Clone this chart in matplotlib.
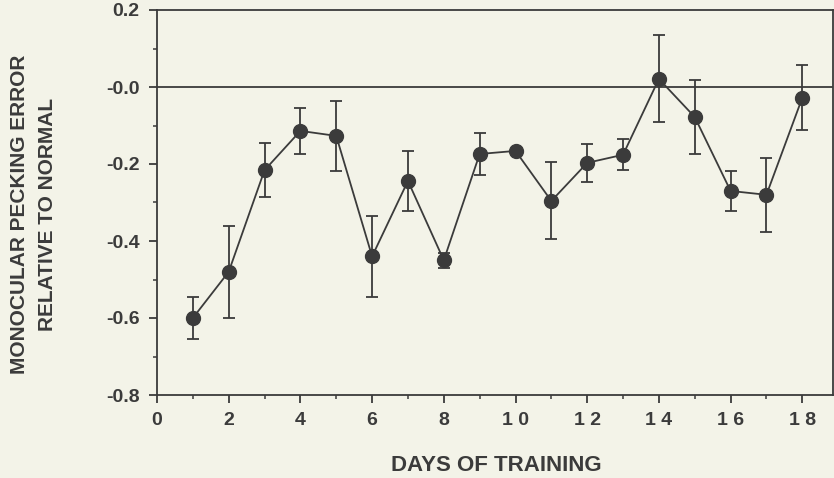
import matplotlib
matplotlib.use("Agg")
import matplotlib.pyplot as plt
from matplotlib.ticker import MultipleLocator

# Monocular pecking error relative to normal, per training day
days = [1, 2, 3, 4, 5, 6, 7, 8, 9, 10, 11, 12, 13, 14, 15, 16, 17, 18]
error = [-0.60, -0.48, -0.216, -0.114, -0.127, -0.44, -0.244, -0.45, -0.174,
         -0.166, -0.296, -0.197, -0.176, 0.021, -0.078, -0.27, -0.28, -0.028]
sem = [0.055, 0.12, 0.07, 0.06, 0.09, 0.105, 0.078, 0.02, 0.055,
       0.004, 0.10, 0.05, 0.04, 0.113, 0.096, 0.052, 0.096, 0.084]

x_ticks = [0, 2, 4, 6, 8, 10, 12, 14, 16, 18]
x_ticklabels = ["0", "2", "4", "6", "8", "1 0", "1 2", "1 4", "1 6", "1 8"]
y_ticks = [-0.8, -0.6, -0.4, -0.2, 0.0, 0.2]
y_ticklabels = ["-0.8", "-0.6", "-0.4", "-0.2", "-0.0", "0.2"]

bg = "#f3f3e8"
ink = "#3b3b3b"

plt.rcParams["font.family"] = ["Liberation Sans", "DejaVu Sans"]
plt.rcParams["font.weight"] = "bold"

fig = plt.figure(figsize=(8.34, 4.78), dpi=100, facecolor=bg)
ax = fig.add_axes([157 / 834, 1 - 395 / 478, (833 - 157) / 834, 385 / 478])
ax.set_facecolor(bg)

ax.axhline(0, color=ink, lw=1.3, zorder=1)
ax.errorbar(days, error, yerr=sem, color=ink, lw=1.3, marker="o", ms=10,
            elinewidth=1.3, capsize=4.5, capthick=1.3, zorder=3)

ax.set_xlim(0, (833 - 157) / 35.85)
ax.set_ylim(-0.8, 0.2)
ax.set_xticks(x_ticks)
ax.set_xticklabels(x_ticklabels)
ax.set_yticks(y_ticks)
ax.set_yticklabels(y_ticklabels)
ax.xaxis.set_minor_locator(MultipleLocator(1))
ax.yaxis.set_minor_locator(MultipleLocator(0.1))

for s in ax.spines.values():
    s.set_color(ink)
    s.set_linewidth(1.3)

ax.tick_params(which="major", direction="out", length=5.5, width=1.3,
               color=ink, labelcolor=ink, labelsize=14, pad=7)
ax.tick_params(which="minor", direction="out", length=3, width=1.1, color=ink)

ax.set_xlabel("DAYS OF TRAINING", fontsize=16, fontweight="bold", color=ink)
ax.set_ylabel("MONOCULAR PECKING ERROR\nRELATIVE TO NORMAL", fontsize=15,
              fontweight="bold", color=ink, linespacing=1.6)
ax.xaxis.set_label_coords(0.502, -0.182)
ax.yaxis.set_label_coords(-0.182, 0.47)
ax.xaxis.label.set_va("center")
ax.yaxis.label.set_va("center")

fig.savefig("out.png", dpi=100, facecolor=bg)
